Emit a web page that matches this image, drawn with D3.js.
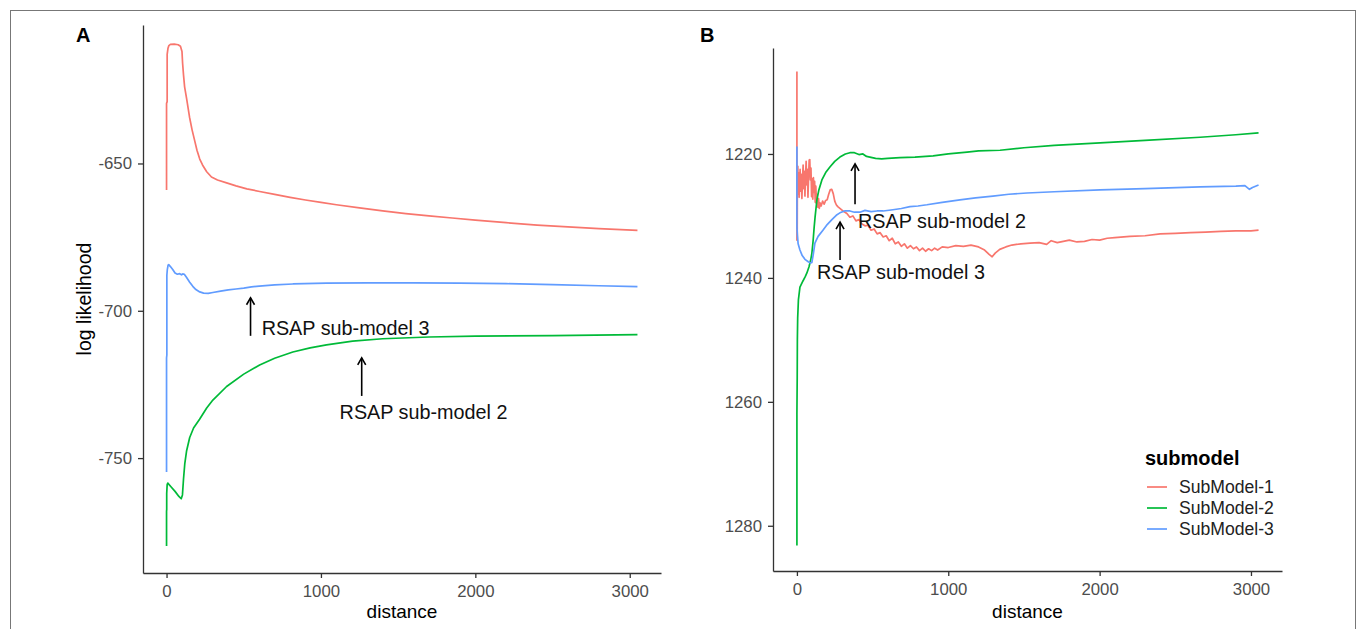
<!DOCTYPE html>
<html><head><meta charset="utf-8">
<script src="https://cdn.jsdelivr.net/npm/d3@7"></script>
<style>
body{margin:0;background:#fff}
svg{display:block;font-family:"Liberation Sans",Arial,sans-serif}
</style>
</head><body>
<svg id="c" width="1362" height="629"></svg>
<script>
// ---------- DATA (distance, log likelihood) ----------
const seriesNames = ["SubModel-1","SubModel-2","SubModel-3"];
const seriesColors = ["#F8766D","#00BA38","#619CFF"];

const xTicks = [0,1000,2000,3000];
const yTicksA = [-650,-700,-750];
const yTicksB = [1220,1240,1260,1280];

const redA = [[0,-659],[0,-629.6],[4,-629],[4,-613],[9,-611],[15,-610],[25,-609.6],[50,-609.5],[75,-609.7],[90,-610.2],[100,-612],[104,-616],[110,-620],[117,-624],[130,-628],[149,-634.3],[165,-638.5],[181,-642],[197,-645.5],[215,-648.5],[233,-650.5],[260,-652.8],[291,-654.6],[330,-655.6],[389,-656.6],[450,-657.6],[520,-658.6],[603,-659.5],[700,-660.5],[800,-661.5],[900,-662.4],[1000,-663.2],[1100,-664],[1250,-665.1],[1400,-666.1],[1550,-667],[1700,-667.8],[1850,-668.5],[2000,-669.2],[2200,-670.1],[2400,-670.9],[2600,-671.5],[2800,-672.1],[3050,-672.7]];

const greenA = [[0,-779.8],[0,-768],[1,-767.5],[1,-762],[4,-759],[8,-758.5],[30,-759.8],[55,-761.3],[80,-763],[95,-763.8],[103,-762.5],[110,-757],[118,-752],[130,-747.5],[150,-743],[175,-739.8],[214,-736.8],[260,-733],[300,-730.3],[389,-725.7],[500,-721.5],[603,-718.4],[700,-716.1],[818,-714],[930,-712.6],[1036,-711.6],[1205,-710.3],[1400,-709.5],[1700,-708.9],[2000,-708.6],[2500,-708.4],[3050,-708.1]];

const blueA = [[0,-754.7],[0,-716],[2,-715],[2,-688],[5,-686],[10,-684.5],[14,-684.3],[25,-685],[40,-686],[55,-687.2],[70,-687.6],[85,-687.4],[97,-687.8],[105,-687.5],[115,-687.6],[130,-688.7],[150,-690.3],[170,-691.7],[190,-692.8],[215,-693.6],[240,-694],[270,-694.1],[300,-693.8],[350,-693.3],[400,-692.9],[450,-692.6],[500,-692.3],[550,-691.9],[600,-691.6],[700,-691.2],[818,-690.9],[1036,-690.6],[1300,-690.5],[1600,-690.5],[1900,-690.6],[2200,-690.8],[2500,-691.1],[2800,-691.5],[3050,-691.8]];

const redB = [[0,1206.7],[0,1233.9],[2,1233.5],[3,1224],[6,1222],[9,1226.5],[12,1223],[15,1227],[18,1224.5],[21,1222.5],[25,1226],[29,1223.3],[33,1227.2],[37,1224],[41,1221.8],[45,1225.6],[49,1222.8],[53,1226.8],[57,1223.5],[61,1221.2],[65,1225],[69,1222.5],[73,1227],[77,1223.8],[81,1221],[85,1220.9],[89,1224.2],[93,1222.3],[97,1226.9],[101,1224],[105,1227.3],[109,1223.8],[113,1226.2],[117,1224.4],[121,1227.8],[125,1225.2],[129,1228],[133,1226.5],[138,1228.6],[143,1227.2],[148,1228.8],[153,1227.9],[160,1228.4],[170,1227.6],[180,1228.1],[190,1227.5],[200,1227.4],[210,1226.5],[220,1225.8],[230,1225.7],[240,1226.4],[250,1227.6],[260,1228.2],[270,1228.5],[290,1228.9],[310,1229.3],[330,1229.6],[350,1230.2],[370,1230],[390,1230.8],[410,1230.6],[430,1231.3],[450,1231.6],[470,1231.5],[490,1232.3],[510,1232.1],[530,1232.9],[550,1232.7],[570,1233.4],[590,1233.2],[610,1234],[630,1233.6],[650,1234.5],[670,1234.2],[690,1234.9],[710,1234.5],[730,1235.2],[750,1234.8],[770,1235.3],[790,1235],[810,1235.6],[830,1235.2],[850,1235.7],[870,1235.3],[890,1235.6],[910,1235.2],[930,1235.5],[960,1235],[1000,1235.1],[1050,1234.8],[1100,1234.9],[1150,1234.7],[1200,1235],[1240,1235.5],[1270,1236.2],[1290,1236.6],[1310,1236],[1340,1235.4],[1380,1235],[1420,1234.7],[1480,1234.5],[1540,1234.4],[1600,1234.3],[1650,1234.6],[1680,1234],[1720,1234.3],[1760,1234.1],[1800,1233.9],[1850,1234.2],[1900,1234.1],[1950,1233.8],[2000,1233.9],[2050,1233.6],[2100,1233.5],[2200,1233.3],[2300,1233.2],[2400,1232.9],[2500,1232.8],[2600,1232.7],[2700,1232.6],[2800,1232.5],[2900,1232.4],[3000,1232.4],[3050,1232.3]];

const greenB = [[0,1283.2],[0,1262],[2,1256],[3,1250],[5,1246.5],[10,1243.5],[20,1241.5],[40,1240.5],[55,1239.8],[66,1239.2],[80,1238.2],[92,1237],[99,1236],[107,1234],[114,1231.8],[120,1230.2],[126,1228.8],[132,1227.4],[145,1225.8],[165,1224.2],[190,1223],[218,1222.1],[250,1221.2],[284,1220.5],[320,1220],[350,1219.8],[380,1219.8],[410,1220.1],[436,1220],[460,1220.4],[482,1220.5],[520,1220.7],[560,1220.8],[600,1220.7],[681,1220.6],[780,1220.5],[900,1220.3],[1000,1220],[1124,1219.7],[1200,1219.5],[1342,1219.4],[1500,1219],[1700,1218.6],[2003,1218.2],[2300,1217.8],[2664,1217.3],[2900,1216.9],[3050,1216.6]];

const blueB = [[0,1218.8],[0,1231.8],[3,1233],[8,1234.5],[20,1235.5],[35,1236.4],[53,1237],[75,1237.4],[90,1237.6],[99,1237.5],[108,1236.2],[119,1234.4],[140,1233.3],[172,1232.3],[200,1231.4],[231,1230.6],[260,1229.9],[284,1229.5],[315,1229.2],[350,1229.2],[380,1229.4],[416,1229.4],[450,1229.1],[490,1229.3],[529,1229.2],[570,1229.2],[634,1229],[690,1228.8],[747,1228.5],[800,1228.4],[859,1228.2],[960,1227.8],[1077,1227.4],[1180,1227.1],[1295,1226.8],[1400,1226.5],[1520,1226.3],[1700,1226.1],[2003,1225.8],[2300,1225.6],[2664,1225.3],[2900,1225.2],[2960,1225.1],[2990,1225.7],[3010,1225.4],[3050,1225]];

// annotations in data coordinates: [arrowX, tipY, tailY, textX, textY, label]
const annotA = [[544,-695.6,-708.5,616,-708.2,"RSAP sub-model 3"],[1264,-716,-728.9,1121,-736.7,"RSAP sub-model 2"]];
const annotB = [[384,1221.6,1228.1,404,1231.9,"RSAP sub-model 2"],[285,1231.0,1237.1,133,1240.2,"RSAP sub-model 3"]];

// ---------- DRAW ----------
const svg = d3.select("#c");
svg.append("rect").attr("x",10.5).attr("y",10.5).attr("width",1345).attr("height",640)
  .attr("fill","none").attr("stroke","#777").attr("stroke-width",1);

function panel(o){
  const x = d3.scaleLinear().domain(o.xDom).range(o.xRange);
  const y = d3.scaleLinear().domain(o.yDom).range(o.yRange);
  const g = svg.append("g");
  const line = d3.line().x(d=>x(d[0])).y(d=>y(d[1]));
  o.series.forEach((s,i)=>{
    g.append("path").datum(s).attr("d",line).attr("fill","none")
      .attr("stroke",seriesColors[i]).attr("stroke-width",1.7).attr("stroke-linejoin","round");
  });
  const ax = g.append("g").attr("transform",`translate(0,${o.yRange[0]})`)
    .call(d3.axisBottom(x).tickValues(xTicks).tickFormat(d3.format("d")).tickSize(5).tickSizeOuter(0).tickPadding(7));
  const ay = g.append("g").attr("transform",`translate(${o.xRange[0]},0)`)
    .call(d3.axisLeft(y).tickValues(o.yTicks).tickFormat(d=>String(d).replace("\u2212","-")).tickSize(5).tickSizeOuter(0).tickPadding(6));
  [ax,ay].forEach(a=>{
    a.select(".domain").attr("stroke","#333").attr("stroke-width",1.3);
    a.selectAll(".tick line").attr("stroke","#333").attr("stroke-width",1.3);
    a.selectAll(".tick text").attr("fill","#4d4d4d").style("font-size","16.8px").style("font-family","'Liberation Sans',Arial,sans-serif");
  });
  g.append("text").attr("x",(o.xRange[0]+o.xRange[1])/2).attr("y",618).attr("text-anchor","middle")
    .style("font-size","19px").attr("fill","#000").text("distance");
  if(o.ylab){
    g.append("text").attr("transform",`translate(${o.ylabX},${(o.yRange[0]+o.yRange[1])/2}) rotate(-90)`)
      .attr("text-anchor","middle").style("font-size","19.5px").attr("fill","#000").text(o.ylab);
  }
  g.append("text").attr("x",o.tagX).attr("y",42).style("font-size","20px").style("font-weight","bold").text(o.tag);
  o.annots.forEach(a=>{
    const ax0 = x(a[0]), ty = y(a[1]), by = y(a[2]);
    g.append("line").attr("x1",ax0).attr("x2",ax0).attr("y1",by).attr("y2",ty).attr("stroke","#000").attr("stroke-width",1.6);
    const L=8, ang=Math.PI/6;
    g.append("path").attr("d",`M${ax0-L*Math.sin(ang)},${ty+L*Math.cos(ang)}L${ax0},${ty}L${ax0+L*Math.sin(ang)},${ty+L*Math.cos(ang)}`)
      .attr("fill","none").attr("stroke","#000").attr("stroke-width",1.6);
    g.append("text").attr("x",x(a[3])).attr("y",y(a[4])).style("font-size","19.8px").attr("fill","#111").text(a[5]);
  });
  return {x,y};
}

panel({xDom:[-152.5,3202.5], xRange:[143,661], yDom:[-789,-603], yRange:[573,25],
  yTicks:yTicksA, series:[redA,greenA,blueA], ylab:"log likelihood", ylabX:91,
  tag:"A", tagX:76, annots:annotA});

panel({xDom:[-158,3205], xRange:[773,1282], yDom:[1287.3,1202.9], yRange:[571,48],
  yTicks:yTicksB, series:[redB,greenB,blueB], ylab:null,
  tag:"B", tagX:700, annots:annotB});

// legend
const lg = svg.append("g");
lg.append("text").attr("x",1145).attr("y",465).style("font-size","20px").style("font-weight","bold").attr("fill","#000").text("submodel");
seriesNames.forEach((n,i)=>{
  const yy = 487 + i*21;
  lg.append("line").attr("x1",1147).attr("x2",1167).attr("y1",yy).attr("y2",yy).attr("stroke",seriesColors[i]).attr("stroke-width",1.7);
  lg.append("text").attr("x",1179).attr("y",yy).attr("dy","0.36em").style("font-size","17.6px").attr("fill","#222").text(n);
});
</script>
</body></html>
